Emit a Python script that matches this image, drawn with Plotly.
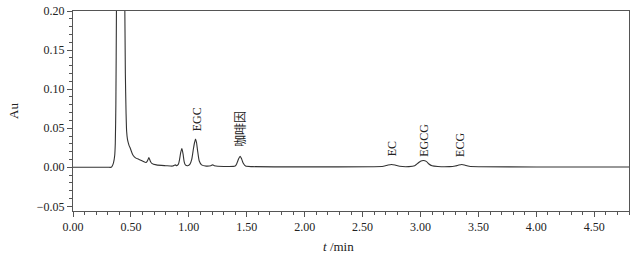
import plotly.graph_objects as go

# Retention time (min) and absorbance (Au)
t_min = [0.00, 0.30, 0.33, 0.34, 0.35, 0.36, 0.365, 0.37, 0.375, 0.38, 0.40,
         0.43, 0.445, 0.452, 0.458, 0.463, 0.47, 0.478, 0.486, 0.493, 0.50,
         0.51, 0.52, 0.54, 0.57, 0.60, 0.63, 0.64, 0.648, 0.655, 0.662, 0.67,
         0.68, 0.72, 0.80, 0.86, 0.875, 0.885, 0.895, 0.91, 0.92, 0.93, 0.94,
         0.95, 0.96, 0.97, 0.99, 1.01, 1.025, 1.04, 1.05, 1.058, 1.066, 1.075,
         1.09, 1.11, 1.15, 1.19, 1.205, 1.22, 1.25, 1.30, 1.40, 1.415, 1.43,
         1.443, 1.455, 1.47, 1.49, 1.55, 2.00, 2.60, 2.68, 2.72, 2.75, 2.78,
         2.82, 2.90, 2.95, 2.98, 3.00, 3.025, 3.05, 3.07, 3.10, 3.15, 3.25,
         3.30, 3.33, 3.356, 3.38, 3.42, 3.50, 4.00, 4.80]
au = [0.000, 0.000, 0.000, 0.002, 0.006, 0.015, 0.030, 0.080, 0.200, 0.350,
      0.600, 0.500, 0.250, 0.120, 0.070, 0.046, 0.036, 0.031, 0.027, 0.025,
      0.022, 0.018, 0.015, 0.012, 0.010, 0.008, 0.006, 0.0075, 0.010, 0.0125,
      0.010, 0.007, 0.005, 0.003, 0.002, 0.0015, 0.0025, 0.003, 0.002, 0.004,
      0.010, 0.019, 0.024, 0.017, 0.007, 0.003, 0.002, 0.004, 0.010, 0.024,
      0.032, 0.036, 0.032, 0.022, 0.008, 0.003, 0.0015, 0.002, 0.003, 0.002,
      0.0012, 0.001, 0.0015, 0.005, 0.011, 0.014, 0.011, 0.005, 0.0015, 0.0008,
      0.0005, 0.0006, 0.0012, 0.0028, 0.0035, 0.0028, 0.0012, 0.0008, 0.002,
      0.0055, 0.0078, 0.0087, 0.0075, 0.0045, 0.0018, 0.0009, 0.0008, 0.0016,
      0.0028, 0.0035, 0.0028, 0.0012, 0.0006, 0.0004, 0.0003]

peak_names = ["EGC", "咖啡因", "EC", "EGCG", "ECG"]
peak_label_t = [1.07, 1.44, 2.75, 3.03, 3.34]
peak_label_au = [0.0435, 0.023, 0.0115, 0.0115, 0.0105]

x_ticks = [0.0, 0.5, 1.0, 1.5, 2.0, 2.5, 3.0, 3.5, 4.0, 4.5]
y_ticks = [-0.05, 0.00, 0.05, 0.10, 0.15, 0.20]

serif = "Liberation Serif, Times New Roman, serif"
cjk = "Liberation Serif, Noto Sans CJK SC, serif"
axis_col = "#555555"
text_col = "#222222"

fig = go.Figure()
fig.add_trace(go.Scatter(x=t_min, y=au, mode="lines",
                         line=dict(color="#333333", width=1.1, shape="spline", smoothing=0.6),
                         showlegend=False, hoverinfo="skip"))

annotations = []
for name, tx, ty in zip(peak_names, peak_label_t, peak_label_au):
    annotations.append(dict(x=tx, y=ty, xref="x", yref="y", text=name,
                            textangle=-90, showarrow=False, xanchor="center",
                            yanchor="bottom",
                            font=dict(family=cjk, size=12, color=text_col)))

annotations.append(dict(x=-(73 - 13) / 556, y=0.5, xref="paper", yref="paper",
                        text="Au", showarrow=False, textangle=-90,
                        xanchor="center", yanchor="middle",
                        font=dict(family=serif, size=13, color=text_col)))
annotations.append(dict(x=(338 - 73) / 556, y=-(246 - 211) / 200, xref="paper",
                        yref="paper", text="<i>t</i> /min", showarrow=False,
                        xanchor="center", yanchor="middle",
                        font=dict(family=serif, size=13, color=text_col)))

fig.update_layout(
    width=643, height=260,
    margin=dict(l=73, r=14, t=11, b=49, autoexpand=False),
    paper_bgcolor="white", plot_bgcolor="white",
    font=dict(family=serif, size=12, color=text_col),
    annotations=annotations,
    hovermode=False,
    xaxis=dict(range=[0, 4.8], tickvals=x_ticks, tickformat=".2f",
               automargin=False,
               showline=True, linecolor=axis_col, linewidth=1, mirror=True,
               ticks="outside", ticklen=5, tickcolor=axis_col, tickwidth=1,
               showgrid=False, zeroline=False,
               minor=dict(dtick=0.1, ticks="outside", ticklen=3, tickcolor=axis_col),
               tickfont=dict(family=serif, size=12, color=text_col)),
    yaxis=dict(range=[-0.056, 0.2], tickvals=y_ticks, tickformat=".2f",
               automargin=False,
               showline=True, linecolor=axis_col, linewidth=1, mirror=True,
               ticks="outside", ticklen=5, tickcolor=axis_col, tickwidth=1,
               showgrid=False, zeroline=False,
               minor=dict(dtick=0.01, ticks="outside", ticklen=3, tickcolor=axis_col),
               tickfont=dict(family=serif, size=12, color=text_col)),
)

fig.write_html("out.html",
               config={"displayModeBar": False, "staticPlot": True},
               post_script="document.body.style.margin='0';document.body.style.overflow='hidden';")
